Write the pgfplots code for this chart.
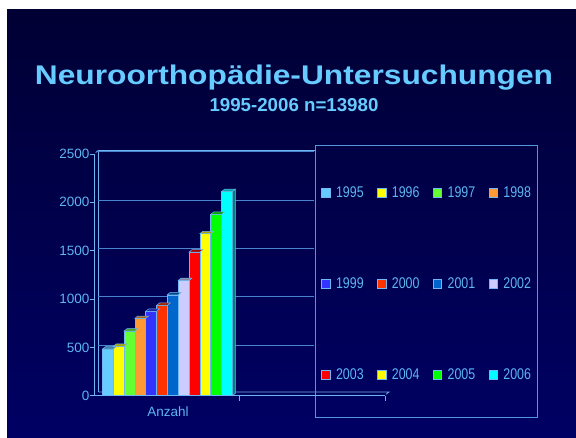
\documentclass[border=0pt]{standalone}
\usepackage{fontspec}
\setmainfont{Liberation Sans}
\newfontfamily\legfont[FakeStretch=0.8]{Liberation Sans}
\usepackage{graphicx}
\usepackage{pgfplots}
\pgfplotsset{compat=1.18}
\definecolor{bgtop}{RGB}{0,0,52}
\definecolor{bgbot}{RGB}{0,0,100}
\definecolor{ttl}{RGB}{102,204,255}
\definecolor{lbl}{RGB}{92,182,240}
\definecolor{axc}{RGB}{110,180,240}
\definecolor{gridc}{RGB}{72,132,205}
\definecolor{boxc}{RGB}{82,150,220}
\definecolor{edge}{RGB}{110,185,245}
\definecolor{c1}{RGB}{102,204,255}
\definecolor{c2}{RGB}{255,255,0}
\definecolor{c3}{RGB}{102,255,51}
\definecolor{c4}{RGB}{255,153,51}
\definecolor{c5}{RGB}{51,51,255}
\definecolor{c6}{RGB}{255,51,0}
\definecolor{c7}{RGB}{0,102,204}
\definecolor{c8}{RGB}{204,204,255}
\definecolor{c9}{RGB}{255,0,0}
\definecolor{c10}{RGB}{255,255,0}
\definecolor{c11}{RGB}{0,255,0}
\definecolor{c12}{RGB}{0,255,255}
\pgfdeclareplotmark{top3d}{%
 \pgfpathmoveto{\pgfqpoint{-5.4165pt}{0pt}}%
 \pgfpathlineto{\pgfqpoint{5.4165pt}{0pt}}%
 \pgfpathlineto{\pgfqpoint{8.4165pt}{2.4pt}}%
 \pgfpathlineto{\pgfqpoint{-2.4165pt}{2.4pt}}%
 \pgfpathclose\pgfusepathqfillstroke}
\pgfdeclareplotmark{side3d}{%
 \pgfpathmoveto{\pgfqpoint{5.4165pt}{0pt}}%
 \pgfpathlineto{\pgfqpoint{8.4165pt}{2.4pt}}%
 \pgfpathlineto{\pgfqpoint{8.4165pt}{-201.7pt}}%
 \pgfpathlineto{\pgfqpoint{5.4165pt}{-204.1pt}}%
 \pgfpathclose\pgfusepathqfillstroke}
\begin{document}
\begin{tikzpicture}[x=1pt,y=1pt]
\useasboundingbox (0,0) rectangle (576,438);
\fill[white] (0,0) rectangle (576,438);
\shade[top color=bgtop, bottom color=bgbot] (7,0) rectangle (576,428);
% titles
\node[anchor=base, text=ttl, inner sep=0pt] at (294,353.7)
  {\fontsize{27}{32}\selectfont\bfseries\scalebox{1.175}[1]{Neuroorthopädie-Untersuchungen}};
\node[anchor=base, text=ttl, inner sep=0pt] at (294,326.3)
  {\fontsize{18.7}{22}\selectfont\bfseries 1995-2006 n=13980};
% 3D frame (back wall and floor)
\draw[axc, line width=0.8pt] (98.7,46) -- (98.7,287.8) -- (315,287.8);
\draw[axc, line width=0.8pt] (95.7,285.5) -- (98.7,287.8);
\draw[axc!80!gray, line width=0.8pt] (98.7,46) -- (389,46) -- (386,43.7);
% legend frame
\draw[boxc, line width=1pt] (315,20.3) rectangle (537.7,292.3);
\begin{axis}[
  at={(87.4,43.7)}, anchor=south west,
  scale only axis, width=290.3pt, height=241.8pt,
  xmin=-1.205, xmax=25.59, ymin=0, ymax=2500,
  clip=false,
  axis x line*=bottom, axis y line*=left,
  axis line style={axc, line width=0.8pt},
  tick align=outside, major tick length=5pt,
  tick style={axc, line width=0.8pt},
  ytick={0,500,1000,1500,2000,2500},
  xtick={12.15,25.59}, xticklabels={,},
  extra x ticks={5.56}, extra x tick labels={Anzahl},
  extra x tick style={major tick length=0pt, xticklabel style={yshift=-11pt}},
  scaled ticks=false,
  /pgf/number format/assume math mode=true,
  /pgf/number format/set thousands separator={},
  ticklabel style={font=\fontsize{13.5}{16}\selectfont, text=lbl, inner sep=0pt},
  yticklabel style={xshift=0pt},
  every axis plot/.append style={ybar, bar width=10.833pt, bar shift=0pt,
     draw=edge, line width=0.5pt, mark=top3d,
     legend image code/.code={\draw[##1, mark=none, line width=0.5pt] (0.3pt,-4.15pt) rectangle (9pt,4.15pt);}},
  legend columns=4,
  legend cell align=left,
  legend style={draw=none, fill=none, at={(0.7795,0.866)}, anchor=north west,
     inner sep=0pt, row sep=78.7pt,
     nodes={inner sep=0pt, text=lbl, font=\legfont\fontsize{15.5}{18}\selectfont},
     /tikz/every odd column/.append style={column sep=5.7pt},
     /tikz/every even column/.append style={column sep=13.3pt}},
]
\pgfplotsinvokeforeach{500,1000,1500,2000,2500}{
  \draw[gridc, line width=0.8pt] ([shift={(3pt,2.3pt)}]axis cs:-1.205,#1) -- ([shift={(3pt,2.3pt)}]axis cs:18.76,#1);
}
\addplot[fill=c1, mark options={fill=c1!65!black}] coordinates {(0,482)};
\addplot[fill=c2, mark options={fill=c2!65!black}] coordinates {(1,510)};
\addplot[fill=c3, mark options={fill=c3!65!black}] coordinates {(2,668)};
\addplot[fill=c4, mark options={fill=c4!65!black}] coordinates {(3,799)};
\addplot[fill=c5, mark options={fill=c5!65!black}] coordinates {(4,872)};
\addplot[fill=c6, mark options={fill=c6!65!black}] coordinates {(5,934)};
\addplot[fill=c7, mark options={fill=c7!65!black}] coordinates {(6,1044)};
\addplot[fill=c8, mark options={fill=c8!65!black}] coordinates {(7,1192)};
\addplot[fill=c9, mark options={fill=c9!65!black}] coordinates {(8,1485)};
\addplot[fill=c10, mark options={fill=c10!65!black}] coordinates {(9,1675)};
\addplot[fill=c11, mark options={fill=c11!65!black}] coordinates {(10,1875)};
\addplot[fill=c12, mark options={fill=c12!65!black}] coordinates {(11,2110)};
\addplot[only marks, mark=side3d, forget plot, draw=edge, mark options={fill=c12!50!black}] coordinates {(11,2110)};
\legend{1995,1996,1997,1998,1999,2000,2001,2002,2003,2004,2005,2006}
\end{axis}
\end{tikzpicture}
\end{document}
